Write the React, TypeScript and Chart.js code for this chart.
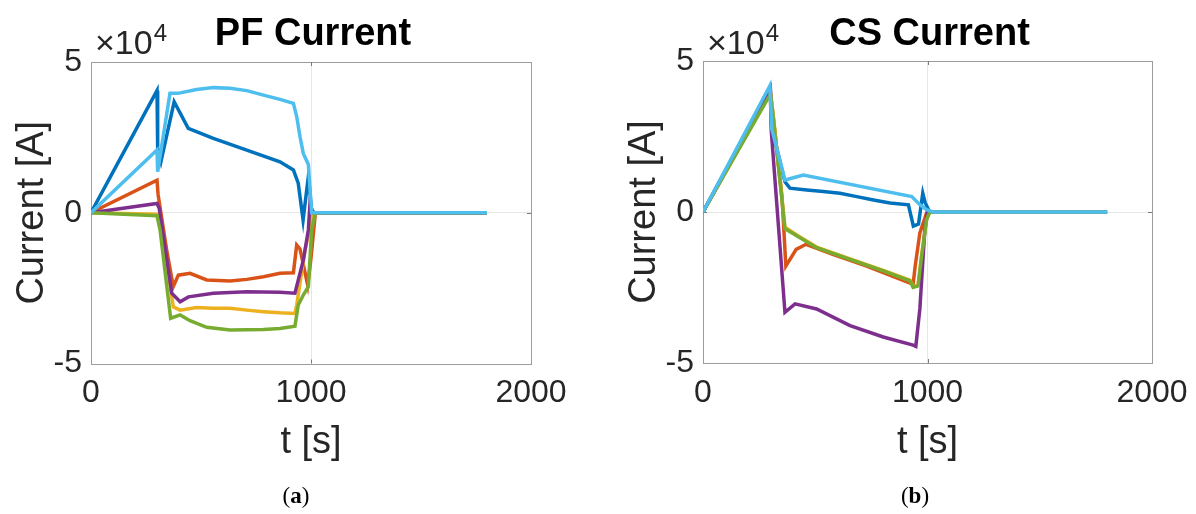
import React, { useEffect, useRef } from "react";
import { Chart, registerables } from "chart.js";

Chart.register(...registerables);

// ---------- colours (MATLAB default order) ----------
const COLORS = ["#0072BD", "#D95319", "#EDB120", "#7E2F8E", "#77AC30", "#4DBEEE"];

// ---------- axis ticks ----------
const xTicks = [0, 1000, 2000];
const yTicks = [-50000, 0, 50000];

// ---------- (a) PF Current : t [s] / current [A] ----------
const pf1T = [0, 300, 303, 318, 378, 442, 556, 708, 859, 920, 942, 964, 988, 1003, 1020, 1800];
const pf1I = [0, 40500, 21500, 17000, 36800, 28000, 24700, 20800, 16900, 14200, 9800, -2400, 12000, 500, 0, 0];

const pf2T = [0, 300, 305, 344, 374, 397, 450, 526, 632, 708, 784, 859, 920, 935, 950, 985, 1000, 1020, 1800];
const pf2I = [0, 10800, 6000, -12400, -24500, -20700, -20100, -22300, -22600, -22100, -21200, -20100, -19900, -10700, -12000, -24000, -15000, 0, 0];

const pf3T = [0, 300, 312, 374, 405, 480, 556, 632, 708, 784, 859, 927, 935, 957, 973, 1010, 1800];
const pf3I = [0, -500, -1500, -31200, -32300, -31400, -31700, -31700, -32300, -32800, -33200, -33400, -30600, -20100, -12400, 0, 0];

const pf4T = [0, 300, 310, 367, 405, 443, 556, 708, 859, 927, 965, 988, 995, 1010, 1800];
const pf4I = [0, 3100, 1500, -26700, -29500, -27900, -26700, -26200, -26400, -26700, -15700, -5700, 2600, 0, 0];

const pf5T = [0, 300, 314, 362, 405, 450, 526, 632, 784, 859, 927, 942, 965, 988, 1003, 1020, 1800];
const pf5I = [0, -1000, -5700, -35000, -33900, -35800, -38000, -38900, -38700, -38400, -37600, -30600, -27300, -24500, -5700, 0, 0];

const pf6T = [0, 300, 303, 359, 395, 480, 556, 632, 708, 784, 859, 920, 935, 950, 965, 988, 1003, 1800];
const pf6I = [0, 20800, 13600, 39600, 39600, 40900, 41500, 41300, 40500, 39000, 37600, 36300, 31900, 25200, 19700, 16000, 0, 0];

// ---------- (b) CS Current ----------
const cs1T = [0, 300, 306, 365, 387, 462, 536, 610, 685, 759, 833, 915, 937, 960, 979, 990, 1010, 1800];
const cs1I = [0, 41000, 28000, 10000, 7900, 7300, 6800, 6200, 5100, 4000, 3000, 2400, -4700, -4000, 6200, 3000, 0, 0];

const cs2T = [0, 300, 352, 369, 415, 459, 578, 729, 877, 936, 945, 966, 996, 1010, 1800];
const cs2I = [0, 40000, 5000, -17900, -12400, -10700, -14000, -17900, -22200, -23900, -18000, -6900, -300, 0, 0];

const cs3T = [0, 300, 313, 365, 432, 506, 655, 803, 922, 936, 958, 972, 996, 1010, 1800];
const cs3I = [0, 39500, 32000, -5000, -8300, -11600, -15500, -19300, -22600, -24700, -24200, -15400, -2300, 0, 0];

const cs4T = [0, 300, 304, 365, 410, 506, 655, 803, 936, 948, 966, 988, 1000, 1800];
const cs4I = [0, 40000, 27000, -33200, -30400, -32100, -37600, -41400, -44100, -44500, -32000, -5800, 0, 0];

const cs5T = [0, 300, 313, 365, 432, 506, 655, 803, 922, 936, 958, 972, 996, 1010, 1800];
const cs5I = [0, 39000, 31400, -5500, -8500, -11800, -15700, -19500, -22800, -25000, -24500, -15700, -2500, 0, 0];

const cs6T = [0, 298, 306, 365, 447, 930, 966, 996, 1025, 1800];
const cs6I = [0, 41800, 27600, 10600, 12200, 5100, 2400, 800, 0, 0];

const pfSeries = [
  [pf1T, pf1I], [pf2T, pf2I], [pf3T, pf3I], [pf4T, pf4I], [pf5T, pf5I], [pf6T, pf6I],
];
const csSeries = [
  [cs1T, cs1I], [cs2T, cs2I], [cs3T, cs3I], [cs4T, cs4I], [cs5T, cs5I], [cs6T, cs6I],
];

const FONT = "'Liberation Sans', Arial, Helvetica, sans-serif";
const TEXT = "#262626";

type Geom = {
  width: number;
  height: number;
  yAxisW: number;
  top: number;
  bottom: number;
  padRight: number;
  yTitlePad: number;
};

const framePlugin = (title: string) => ({
  id: "frameAndTexts",
  beforeDatasetsDraw(chart: any) {
    const { ctx, chartArea } = chart;
    const { left, right, top, bottom } = chartArea;
    ctx.save();
    ctx.strokeStyle = "#9c9c9c";
    ctx.lineWidth = 1;
    ctx.strokeRect(Math.round(left) + 0.5, Math.round(top) + 0.5, Math.round(right - left), Math.round(bottom - top));
    // inward tick marks
    const xs = chart.scales.x;
    const ys = chart.scales.y;
    ctx.strokeStyle = "#7a7a7a";
    ctx.beginPath();
    const x1000 = Math.round(xs.getPixelForValue(1000)) + 0.5;
    ctx.moveTo(x1000, bottom);
    ctx.lineTo(x1000, bottom - 4);
    ctx.moveTo(x1000, top);
    ctx.lineTo(x1000, top + 4);
    const y0 = Math.round(ys.getPixelForValue(0)) + 0.5;
    ctx.moveTo(left, y0);
    ctx.lineTo(left + 4, y0);
    ctx.moveTo(right, y0);
    ctx.lineTo(right - 4, y0);
    ctx.stroke();
    ctx.restore();
  },
  afterDraw(chart: any) {
    const { ctx, chartArea } = chart;
    const { left, right } = chartArea;
    ctx.save();
    // exponent label
    ctx.fillStyle = TEXT;
    ctx.textBaseline = "alphabetic";
    ctx.textAlign = "left";
    ctx.font = `34px ${FONT}`;
    const base = "\u00D710";
    ctx.fillText(base, left + 4, 54);
    const w = ctx.measureText(base).width;
    ctx.font = `24px ${FONT}`;
    ctx.fillText("4", left + 4 + w + 1, 41);
    // title
    ctx.fillStyle = "#000000";
    ctx.font = `bold 38px ${FONT}`;
    ctx.textAlign = "center";
    ctx.fillText(title, (left + right) / 2 + 2, 45);
    ctx.restore();
  },
});

function makeConfig(series: number[][][], geom: Geom, title: string): any {
  return {
    type: "line",
    data: {
      datasets: series.map(([t, v], i) => ({
        data: t.map((tt, k) => ({ x: tt, y: v[k] })),
        borderColor: COLORS[i],
        backgroundColor: COLORS[i],
        borderWidth: 3.5,
        pointRadius: 0,
        fill: false,
        tension: 0,
        order: 6 - i,
      })),
    },
    options: {
      animation: false,
      responsive: false,
      maintainAspectRatio: false,
      events: [],
      layout: { padding: { left: 0, right: geom.padRight, top: geom.top, bottom: 0 } },
      plugins: {
        legend: { display: false },
        tooltip: { enabled: false },
        title: { display: false },
      },
      scales: {
        x: {
          type: "linear",
          min: xTicks[0],
          max: xTicks[xTicks.length - 1],
          afterBuildTicks: (s: any) => {
            s.ticks = xTicks.map((v) => ({ value: v }));
          },
          afterFit: (s: any) => {
            s.height = geom.height - geom.bottom;
          },
          ticks: {
            color: TEXT,
            font: { family: FONT, size: 32, lineHeight: 1 },
            padding: 14,
            maxRotation: 0,
            autoSkip: false,
            callback: (v: any) => String(v),
          },
          grid: {
            drawTicks: false,
            lineWidth: 1,
            color: (c: any) =>
              c.tick && c.tick.value > xTicks[0] && c.tick.value < xTicks[xTicks.length - 1] ? "#e6e6e6" : "rgba(0,0,0,0)",
          },
          border: { display: false },
          title: {
            display: true,
            text: "t [s]",
            color: TEXT,
            font: { family: FONT, size: 38, lineHeight: 1 },
            padding: { top: 0, bottom: 52 },
          },
        },
        y: {
          type: "linear",
          min: yTicks[0],
          max: yTicks[yTicks.length - 1],
          afterBuildTicks: (s: any) => {
            s.ticks = yTicks.map((v) => ({ value: v }));
          },
          afterFit: (s: any) => {
            s.width = geom.yAxisW;
          },
          ticks: {
            color: TEXT,
            font: { family: FONT, size: 32, lineHeight: 1 },
            padding: 9,
            autoSkip: false,
            callback: (v: any) => String(v / 10000),
          },
          grid: {
            drawTicks: false,
            lineWidth: 1,
            color: (c: any) =>
              c.tick && c.tick.value > yTicks[0] && c.tick.value < yTicks[yTicks.length - 1] ? "#e6e6e6" : "rgba(0,0,0,0)",
          },
          border: { display: false },
          title: {
            display: true,
            text: "Current [A]",
            color: TEXT,
            font: { family: FONT, size: 38, lineHeight: 1 },
            padding: { top: geom.yTitlePad, bottom: 0 },
          },
        },
      },
    },
    plugins: [framePlugin(title)],
  };
}

const leftGeom: Geom = { width: 600, height: 514, yAxisW: 91, top: 62, bottom: 363.5, padRight: 69, yTitlePad: 14 };
const rightGeom: Geom = { width: 620, height: 514, yAxisW: 103, top: 61, bottom: 363, padRight: 68, yTitlePad: 26 };

export default function App() {
  const leftRef = useRef<HTMLCanvasElement | null>(null);
  const rightRef = useRef<HTMLCanvasElement | null>(null);

  useEffect(() => {
    const c1 = new Chart(leftRef.current as HTMLCanvasElement, makeConfig(pfSeries, leftGeom, "PF Current"));
    const c2 = new Chart(rightRef.current as HTMLCanvasElement, makeConfig(csSeries, rightGeom, "CS Current"));
    return () => {
      c1.destroy();
      c2.destroy();
    };
  }, []);

  const capStyle: React.CSSProperties = {
    position: "absolute",
    top: 483,
    width: 60,
    textAlign: "center",
    fontFamily: "'Liberation Serif', 'DejaVu Serif', serif",
    fontSize: 23,
    lineHeight: "26px",
    color: "#000",
  };

  return (
    <div style={{ position: "absolute", left: 0, top: 0, width: 1196, height: 514, background: "#ffffff", overflow: "hidden" }}>
      <canvas ref={leftRef} width={leftGeom.width} height={514} style={{ position: "absolute", left: 0, top: 0, width: leftGeom.width, height: 514 }} />
      <canvas ref={rightRef} width={rightGeom.width} height={514} style={{ position: "absolute", left: 600, top: 0, width: rightGeom.width, height: 514 }} />
      <div style={{ ...capStyle, left: 266 }}>
        (<b>a</b>)
      </div>
      <div style={{ ...capStyle, left: 885 }}>
        (<b>b</b>)
      </div>
    </div>
  );
}
